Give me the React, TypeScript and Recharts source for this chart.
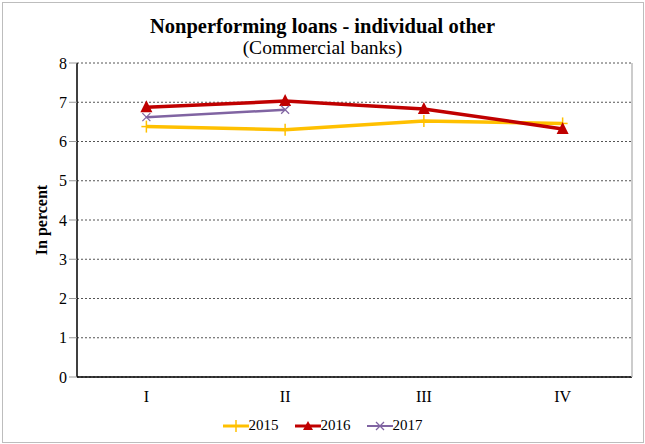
import React from "react";
import { LineChart, Line, XAxis, YAxis, CartesianGrid, Legend } from "recharts";

const quarters = ["I", "II", "III", "IV"];
const y2015 = [6.38, 6.3, 6.52, 6.46];
const y2016 = [6.87, 7.03, 6.83, 6.32];
const y2017 = [6.62, 6.81, null, null];
const yTicks = [0, 1, 2, 3, 4, 5, 6, 7, 8];

const data = quarters.map((q, i) => ({
    q,
    a: y2015[i],
    b: y2016[i],
    c: y2017[i],
}));

const FONT = "'Liberation Serif', 'Times New Roman', serif";

const Plus = (props: any) => {
    const { cx, cy } = props;
    if (cx == null || cy == null) return null;
    return (
        <g>
            <line x1={cx - 5} y1={cy} x2={cx + 5} y2={cy} stroke="#FFC000" strokeWidth={1.5} />
            <line x1={cx} y1={cy - 6} x2={cx} y2={cy + 6} stroke="#FFC000" strokeWidth={1.5} />
        </g>
    );
};

const Tri = (props: any) => {
    const { cx, cy } = props;
    if (cx == null || cy == null) return null;
    return <path d={`M${cx},${cy - 7} L${cx + 6},${cy + 5} L${cx - 6},${cy + 5} Z`} fill="#C00000" />;
};

const Cross = (props: any) => {
    const { cx, cy } = props;
    if (cx == null || cy == null) return null;
    return (
        <g stroke="#8064A2" strokeWidth={1.3}>
            <line x1={cx - 4} y1={cy - 4} x2={cx + 4} y2={cy + 4} />
            <line x1={cx - 4} y1={cy + 4} x2={cx + 4} y2={cy - 4} />
        </g>
    );
};

const legendItems = [
    { label: "2015", color: "#FFC000", w: 3, mark: "plus" },
    { label: "2016", color: "#C00000", w: 3, mark: "tri" },
    { label: "2017", color: "#8064A2", w: 2, mark: "cross" },
];

const LegendContent = () => (
    <div style={{ display: "flex", justifyContent: "center", gap: 16, marginLeft: 12, fontFamily: FONT, fontSize: 15, color: "#000" }}>
        {legendItems.map((it) => (
            <div key={it.label} style={{ display: "flex", alignItems: "center" }}>
                <svg width={26} height={14}>
                    <line x1={0} y1={7} x2={26} y2={7} stroke={it.color} strokeWidth={it.w} />
                    {it.mark === "plus" && <Plus cx={13} cy={7} />}
                    {it.mark === "tri" && <path d="M13,2 L18,11 L8,11 Z" fill={it.color} />}
                    {it.mark === "cross" && <Cross cx={13} cy={7} />}
                </svg>
                <span>{it.label}</span>
            </div>
        ))}
    </div>
);

export default function App() {
    return (
        <div style={{ position: "absolute", left: 0, top: 0, width: 645, height: 444, background: "#fff", fontFamily: FONT }}>
            <div style={{ position: "absolute", left: 2, top: 2, width: 640, height: 439, border: "1px solid #bdbdbd" }} />
            <div style={{ position: "absolute", top: 15, width: 645, textAlign: "center", fontWeight: "bold", fontSize: 20.5 }}>
                Nonperforming loans - individual other
            </div>
            <div style={{ position: "absolute", top: 37, width: 645, textAlign: "center", fontSize: 19.5 }}>
                (Commercial banks)
            </div>
            <div
                style={{
                    position: "absolute",
                    left: 42,
                    top: 220,
                    transform: "translate(-50%, -50%) rotate(-90deg)",
                    fontWeight: "bold",
                    fontSize: 16,
                    whiteSpace: "nowrap",
                }}
            >
                In percent
            </div>
            <LineChart width={645} height={444} data={data} margin={{ top: 63, right: 12, left: 0, bottom: 10 }} style={{ position: "absolute", left: 0, top: 0 }}>
                <CartesianGrid horizontal vertical={false} stroke="#555" strokeDasharray="2 2" />
                <XAxis
                    dataKey="q"
                    scale="band"
                    height={40}
                    tick={{ fill: "#000", fontSize: 16, fontFamily: FONT }}
                    axisLine={{ stroke: "#000", strokeWidth: 1.5 }}
                    tickLine={false}
                    tickMargin={8}
                />
                <YAxis
                    domain={[0, 8]}
                    ticks={yTicks}
                    interval={0}
                    width={77}
                    tick={{ fill: "#000", fontSize: 16, fontFamily: FONT }}
                    axisLine={{ stroke: "#000", strokeWidth: 1.5 }}
                    tickLine={{ stroke: "#999" }}
                    tickSize={8}
                />
                <YAxis yAxisId="r" orientation="right" width={1} tick={false} tickLine={false} axisLine={{ stroke: "#bbb", strokeWidth: 1.5 }} />
                <Line dataKey="a" stroke="#FFC000" strokeWidth={3.5} dot={<Plus />} isAnimationActive={false} />
                <Line dataKey="b" stroke="#C00000" strokeWidth={3.5} dot={<Tri />} isAnimationActive={false} />
                <Line dataKey="c" stroke="#8064A2" strokeWidth={2.5} dot={<Cross />} isAnimationActive={false} />
                <Legend verticalAlign="bottom" content={<LegendContent />} />
            </LineChart>
        </div>
    );
}
